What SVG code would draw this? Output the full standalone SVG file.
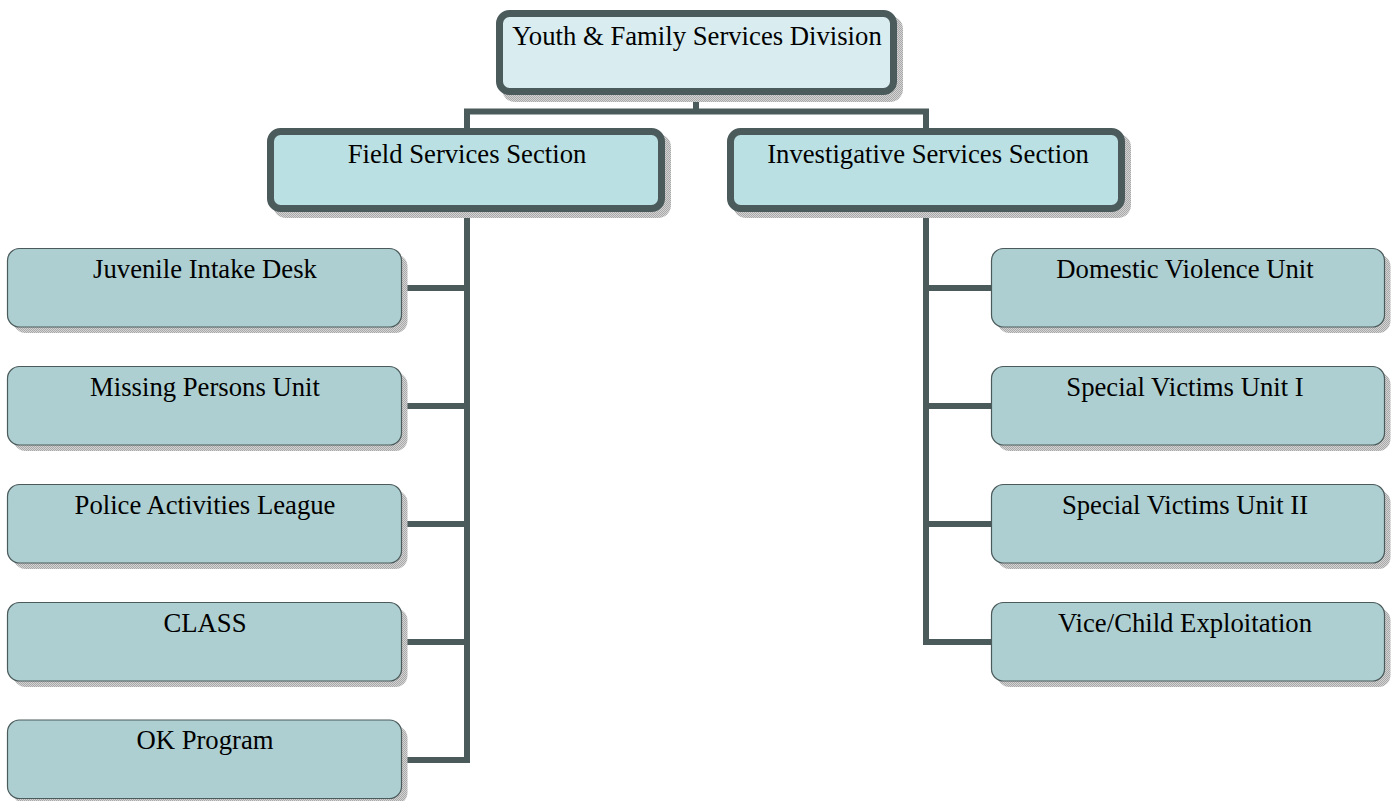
<svg xmlns="http://www.w3.org/2000/svg" width="1394" height="801" viewBox="0 0 1394 801">
<style>
.lbl{font-family:"Liberation Serif","Times New Roman",serif;font-size:26.7px;fill:#000;text-anchor:middle}
.big{fill:none;stroke:#4b5a5b;stroke-width:7}
.top{fill:#d9edf0}
.sec{fill:#bbe0e3}
.kid{fill:#aecfd1;stroke:#4b5a5b;stroke-width:1.2}
.sh{fill:url(#chk)}
.con{fill:none;stroke:#4b5a5b;stroke-width:6;stroke-linejoin:miter}
</style>
<defs>
<pattern id="chk" width="2" height="2" patternUnits="userSpaceOnUse">
<rect width="2" height="2" fill="#d4d4d4"/>
<rect width="1" height="1" fill="#a8a8a8"/>
<rect x="1" y="1" width="1" height="1" fill="#a8a8a8"/>
</pattern>
</defs>
<rect width="1394" height="801" fill="#fff"/>
<g id="connectors">
<path class="con" d="M696 95 V111.5"/>
<path class="con" d="M467 128 V111.5 H926 V128"/>
<path class="con" d="M467 212 V760 H402"/>
<path class="con" d="M402 288 H467 M402 406 H467 M402 524 H467 M402 642 H467"/>
<path class="con" d="M926 212 V642 H991"/>
<path class="con" d="M926 288 H991 M926 406 H991 M926 524 H991"/>
</g>
<g id="n-top">
<rect class="sh" x="502" y="16" width="401" height="86" rx="13"/>
<rect class="top" x="499.5" y="13.5" width="394" height="78" rx="10"/>
<rect class="big" x="499.5" y="13.5" width="394" height="78" rx="10"/>
<text class="lbl" x="697" y="45">Youth &amp; Family Services Division</text>
</g>
<g id="n-field">
<rect class="sh" x="273" y="134" width="398" height="84" rx="13"/>
<rect class="sec" x="270.5" y="131.5" width="391" height="77" rx="10"/>
<rect class="big" x="270.5" y="131.5" width="391" height="77" rx="10"/>
<text class="lbl" x="467" y="163">Field Services Section</text>
</g>
<g id="n-inv">
<rect class="sh" x="733" y="134" width="398" height="84" rx="13"/>
<rect class="sec" x="730.5" y="131.5" width="391" height="77" rx="10"/>
<rect class="big" x="730.5" y="131.5" width="391" height="77" rx="10"/>
<text class="lbl" x="928" y="163">Investigative Services Section</text>
</g>
<g id="n-juv">
<rect class="sh" x="13.5" y="254.5" width="394" height="78.5" rx="12"/>
<rect class="kid" x="7.5" y="248.5" width="394" height="78.5" rx="12"/>
<text class="lbl" x="205" y="277.5">Juvenile Intake Desk</text>
</g>
<g id="n-mis">
<rect class="sh" x="13.5" y="372.5" width="394" height="78.5" rx="12"/>
<rect class="kid" x="7.5" y="366.5" width="394" height="78.5" rx="12"/>
<text class="lbl" x="205" y="395.5">Missing Persons Unit</text>
</g>
<g id="n-pal">
<rect class="sh" x="13.5" y="490.5" width="394" height="78.5" rx="12"/>
<rect class="kid" x="7.5" y="484.5" width="394" height="78.5" rx="12"/>
<text class="lbl" x="205" y="513.5">Police Activities League</text>
</g>
<g id="n-class">
<rect class="sh" x="13.5" y="608.5" width="394" height="78.5" rx="12"/>
<rect class="kid" x="7.5" y="602.5" width="394" height="78.5" rx="12"/>
<text class="lbl" x="205" y="631.5">CLASS</text>
</g>
<g id="n-ok">
<rect class="sh" x="13.5" y="726" width="394" height="78.5" rx="12"/>
<rect class="kid" x="7.5" y="720" width="394" height="78.5" rx="12"/>
<text class="lbl" x="205" y="749">OK Program</text>
</g>
<g id="n-dv">
<rect class="sh" x="997.5" y="254.5" width="393" height="78.5" rx="12"/>
<rect class="kid" x="991.5" y="248.5" width="393" height="78.5" rx="12"/>
<text class="lbl" x="1185" y="277.5">Domestic Violence Unit</text>
</g>
<g id="n-sv1">
<rect class="sh" x="997.5" y="372.5" width="393" height="78.5" rx="12"/>
<rect class="kid" x="991.5" y="366.5" width="393" height="78.5" rx="12"/>
<text class="lbl" x="1185" y="395.5">Special Victims Unit I</text>
</g>
<g id="n-sv2">
<rect class="sh" x="997.5" y="490.5" width="393" height="78.5" rx="12"/>
<rect class="kid" x="991.5" y="484.5" width="393" height="78.5" rx="12"/>
<text class="lbl" x="1185" y="513.5">Special Victims Unit II</text>
</g>
<g id="n-vice">
<rect class="sh" x="997.5" y="608.5" width="393" height="78.5" rx="12"/>
<rect class="kid" x="991.5" y="602.5" width="393" height="78.5" rx="12"/>
<text class="lbl" x="1185" y="631.5">Vice/Child Exploitation</text>
</g>
</svg>
